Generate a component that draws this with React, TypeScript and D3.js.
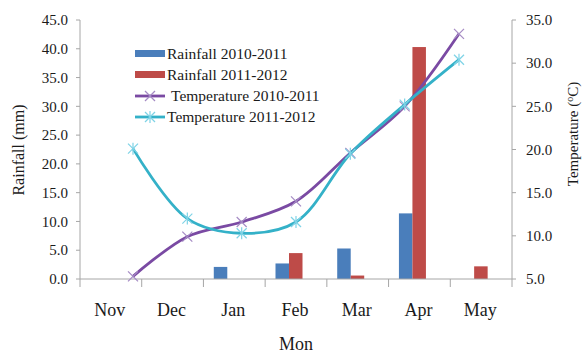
import React from "react";
import * as d3 from "d3";

const months = ["Nov", "Dec", "Jan", "Feb", "Mar", "Apr", "May"];
const rain1011 = [0, 0, 2.1, 2.7, 5.3, 11.4, 0];
const rain1112 = [0, 0, 0, 4.5, 0.6, 40.3, 2.2];
const temp1011 = [5.3, 9.9, 11.6, 14.0, 19.6, 25.0, 33.4];
const temp1112 = [20.1, 12.0, 10.3, 11.6, 19.5, 25.2, 30.4];
const rainTicks = [0, 5, 10, 15, 20, 25, 30, 35, 40, 45];
const tempTicks = [5, 10, 15, 20, 25, 30, 35];

const W = 584;
const H = 356;
const left = 80;
const right = 512;
const top = 20;
const bottom = 279;

const font = "'Liberation Serif', 'Times New Roman', serif";
const axisColor = "#a6a6a6";
const textColor = "#1a1a1a";

const x = d3.scaleBand<string>().domain(months).range([left, right]);
const xLine = d3.scalePoint<string>().domain(months).range([133, 459]);
const xSub = d3.scaleBand<string>().domain(["a", "b"]).range([0, 27]);
const yRain = d3.scaleLinear().domain([0, 45]).range([bottom, top]);
const yTemp = d3.scaleLinear().domain([5, 35]).range([bottom, top]);

const line = d3
  .line<number>()
  .x((d, i) => xLine(months[i]) as number)
  .y((d) => yTemp(d))
  .curve(d3.curveCatmullRom.alpha(0.5));

const barSeries = [
  { key: "a", values: rain1011, color: "#4A7EBB", label: "Rainfall 2010-2011" },
  { key: "b", values: rain1112, color: "#BE4B48", label: "Rainfall 2011-2012" },
];
const lineSeries = [
  { values: temp1011, color: "#7A4AA3", marker: "#A58BC4", star: false, label: "Temperature 2010-2011" },
  { values: temp1112, color: "#34B1C8", marker: "#7FD3E6", star: true, label: "Temperature 2011-2012" },
];

function Marker({ cx, cy, color, star }: { cx: number; cy: number; color: string; star: boolean }) {
  const r = 5;
  return (
    <g stroke={color} strokeWidth={1.2}>
      <line x1={cx - r} y1={cy - r} x2={cx + r} y2={cy + r} />
      <line x1={cx - r} y1={cy + r} x2={cx + r} y2={cy - r} />
      {star && <line x1={cx} y1={cy - r - 1} x2={cx} y2={cy + r + 1} />}
    </g>
  );
}

export default function App() {
  const bounds = [...months.map((m) => x(m) as number), right];
  return (
    <svg width={W} height={H} style={{ position: "absolute", left: 0, top: 0, background: "#fff" }} fontFamily={font}>
      {/* bars */}
      {barSeries.map((s) =>
        s.values.map((v, i) => {
          const bx = (x(months[i]) as number) + x.bandwidth() / 2 - 7 - 13.5 + (xSub(s.key) as number);
          return v > 0 ? (
            <rect key={s.key + i} x={bx} y={yRain(v)} width={xSub.bandwidth()} height={bottom - yRain(v)} fill={s.color} />
          ) : null;
        })
      )}

      {/* axes */}
      <line x1={left} y1={top} x2={left} y2={bottom} stroke={axisColor} />
      <line x1={right} y1={top} x2={right} y2={bottom} stroke={axisColor} />
      <line x1={left} y1={bottom} x2={right} y2={bottom} stroke={axisColor} />
      {bounds.map((b, i) => (
        <line key={"xt" + i} x1={b} y1={bottom} x2={b} y2={bottom + 8} stroke={axisColor} />
      ))}
      {rainTicks.map((t) => (
        <g key={"rt" + t}>
          <line x1={left - 4} y1={yRain(t)} x2={left} y2={yRain(t)} stroke={axisColor} />
          <text x={left - 12} y={yRain(t)} dy="0.35em" textAnchor="end" fontSize={15} fill={textColor}>
            {t.toFixed(1)}
          </text>
        </g>
      ))}
      {tempTicks.map((t) => (
        <g key={"tt" + t}>
          <line x1={right} y1={yTemp(t)} x2={right + 4} y2={yTemp(t)} stroke={axisColor} />
          <text x={right + 14} y={yTemp(t)} dy="0.35em" textAnchor="start" fontSize={15} fill={textColor}>
            {t.toFixed(1)}
          </text>
        </g>
      ))}
      {months.map((m) => (
        <text key={m} x={(x(m) as number) + x.bandwidth() / 2 - 1} y={316} textAnchor="middle" fontSize={18} fill={textColor}>
          {m}
        </text>
      ))}

      {/* lines */}
      {lineSeries.map((s, k) => (
        <g key={"ls" + k}>
          <path d={line(s.values) || ""} fill="none" stroke={s.color} strokeWidth={2.8} />
          {s.values.map((v, i) => (
            <Marker key={i} cx={xLine(months[i]) as number} cy={yTemp(v)} color={s.marker} star={s.star} />
          ))}
        </g>
      ))}

      {/* axis titles */}
      <text transform={`translate(24,150) rotate(-90)`} textAnchor="middle" fontSize={16} fill={textColor}>
        Rainfall (mm)
      </text>
      <text transform={`translate(578,134) rotate(-90)`} textAnchor="middle" fontSize={15} fill={textColor}>
        Temperature (<tspan fontSize={10} dy={-5}>o</tspan>
        <tspan dy={5}>C)</tspan>
      </text>
      <text x={296} y={350} textAnchor="middle" fontSize={18} fill={textColor}>
        Mon
      </text>

      {/* legend */}
      {barSeries.map((s, i) => (
        <g key={"lb" + i}>
          <rect x={135} y={50 + i * 21} width={30} height={7} fill={s.color} />
          <text x={167} y={54 + i * 21} dy="0.35em" fontSize={15.5} fill={textColor}>
            {s.label}
          </text>
        </g>
      ))}
      {lineSeries.map((s, i) => {
        const ly = 96 + i * 21;
        return (
          <g key={"ll" + i}>
            <line x1={135} y1={ly} x2={165} y2={ly} stroke={s.color} strokeWidth={2.8} />
            <Marker cx={150} cy={ly} color={s.marker} star={s.star} />
            <text x={i === 0 ? 171 : 167} y={ly} dy="0.35em" fontSize={15.5} fill={textColor}>
              {s.label}
            </text>
          </g>
        );
      })}
    </svg>
  );
}
